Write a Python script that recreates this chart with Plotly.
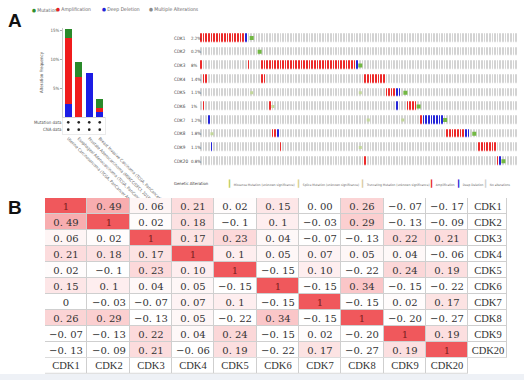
import plotly.graph_objects as go

W, H = 524, 380

# ---------------- Panel A (left): alteration frequency by study ----------------
top_legend_labels = ["Mutation", "Amplification", "Deep Deletion", "Multiple Alterations"]
top_legend_colors = ["#2f8f2f", "#e52222", "#2323d6", "#8a8a8a"]

studies = [
    "Uterine Carcinosarcoma (TCGA, PanCancer Atlas)",
    "Esophageal Adenocarcinoma (TCGA, PanCancer)",
    "Prostate Adenocarcinoma (MSKCC/DFCI, 2018)",
    "Breast Invasive Carcinoma (TCGA, PanCancer)",
]
deep_deletion = [2.2, 0.0, 7.7, 0.8]
amplification = [11.5, 6.9, 0.0, 0.7]
mutation = [1.6, 2.7, 0.0, 1.6]
freq_ticks = [5, 10, 15]
freq_tick_labels = ["5%", "10%", "15%"]
data_types = ["Mutation data", "CNA data"]

# ---------------- Panel A (right): oncoprint ----------------
genes = ["CDK1", "CDK2", "CDK3", "CDK4", "CDK5", "CDK6", "CDK7", "CDK8", "CDK9", "CDK20"]
gene_pct = ["2.2%", "0.2%", "8%", "1.4%", "1.1%", "1%", "1.2%", "1.8%", "1.1%", "0.8%"]
n_samples = 120
# runs of altered samples: (first sample, last sample, type)
# A = amplification, D = deep deletion, M = mutation, m = other mutation
alteration_runs = {
    "CDK1": [(0, 16, "A"), (17, 17, "D"), (19, 19, "M")],
    "CDK2": [(22, 22, "M")],
    "CDK3": [(0, 0, "A"), (18, 18, "A"), (23, 58, "A"), (59, 59, "D"), (60, 60, "M")],
    "CDK4": [(1, 2, "A"), (23, 24, "A"), (62, 69, "A")],
    "CDK5": [(19, 19, "m"), (60, 60, "m"), (70, 73, "A"), (74, 75, "D"), (77, 77, "M")],
    "CDK6": [(1, 1, "A"), (26, 26, "A"), (27, 27, "m"), (74, 74, "D"), (78, 81, "A"), (82, 82, "M")],
    "CDK7": [(3, 3, "D"), (63, 63, "m"), (76, 76, "m"), (83, 83, "A"), (84, 91, "D"), (92, 92, "M")],
    "CDK8": [(4, 4, "m"), (27, 28, "A"), (29, 29, "D"), (93, 99, "A"), (100, 101, "D"), (103, 103, "M")],
    "CDK9": [(4, 4, "D"), (30, 30, "A"), (60, 60, "m"), (105, 111, "A")],
    "CDK20": [(62, 62, "A"), (112, 112, "A"), (113, 113, "D"), (114, 114, "M")],
}
alteration_legend = ["Missense Mutation (unknown significance)",
                     "Splice Mutation (unknown significance)",
                     "Truncating Mutation (unknown significance)",
                     "Amplification", "Deep Deletion", "No alterations"]
alteration_legend_colors = ["#b9cc55", "#d8cf8a", "#d9c9a0", "#e52222", "#2323d6", "#cfcfcf"]

# ---------------- Panel B: correlation matrix ----------------
corr_genes = ["CDK1", "CDK2", "CDK3", "CDK4", "CDK5", "CDK6", "CDK7", "CDK8", "CDK9", "CDK20"]
corr_text = [
    ["1", "0.49", "0.06", "0.21", "0.02", "0.15", "0.00", "0.26", "-0.07", "-0.17"],
    ["0.49", "1", "0.02", "0.18", "-0.1", "0.1", "-0.03", "0.29", "-0.13", "-0.09"],
    ["0.06", "0.02", "1", "0.17", "0.23", "0.04", "-0.07", "-0.13", "0.22", "0.21"],
    ["0.21", "0.18", "0.17", "1", "0.1", "0.05", "0.07", "0.05", "0.04", "-0.06"],
    ["0.02", "-0.1", "0.23", "0.10", "1", "-0.15", "0.10", "-0.22", "0.24", "0.19"],
    ["0.15", "0.1", "0.04", "0.05", "-0.15", "1", "-0.15", "0.34", "-0.15", "-0.22"],
    ["0", "-0.03", "-0.07", "0.07", "0.1", "-0.15", "1", "-0.15", "0.02", "0.17"],
    ["0.26", "0.29", "-0.13", "0.05", "-0.22", "0.34", "-0.15", "1", "-0.20", "-0.27"],
    ["-0.07", "-0.13", "0.22", "0.04", "0.24", "-0.15", "0.02", "-0.20", "1", "0.19"],
    ["-0.13", "-0.09", "0.21", "-0.06", "0.19", "-0.22", "0.17", "-0.27", "0.19", "1"],
]

# colours
RED = "#ec2a2a"
BLUE = "#2525d8"
GREY = "#d3d3d3"
MUT = "#72b843"
MUT_LIGHT = "#c3d89a"
LINE = "#cfcfcf"
NARROW = "DejaVu Sans Condensed, Liberation Sans Narrow, Liberation Sans, Arial"


def px(x):
    return x / W


def py(y):
    return 1 - y / H


fig = go.Figure()

# ---- stacked bars ----
xs = list(range(len(studies)))
for vals, col in [(deep_deletion, "#1d1de4"), (amplification, "#f01c1c"), (mutation, "#2a8a2a")]:
    fig.add_trace(go.Bar(x=xs, y=vals, marker=dict(color=col, line=dict(width=0)),
                         width=0.7, xaxis="x", yaxis="y", hoverinfo="skip"))

# ---- data type dots ----
dot_x, dot_y = [], []
for i in xs:
    for j in range(len(data_types)):
        dot_x.append(i)
        dot_y.append(j)
fig.add_trace(go.Scatter(x=dot_x, y=dot_y, mode="markers", xaxis="x3", yaxis="y3",
                         marker=dict(color="#222222", size=2.6), hoverinfo="skip"))

# ---- oncoprint ----
code = {"A": 1, "D": 2}
onco_z = []
mut_x, mut_y, mutl_x, mutl_y = [], [], [], []
for g in genes:
    row = [0] * n_samples
    for a, b, t in alteration_runs[g]:
        for s in range(a, b + 1):
            if t in code:
                row[s] = code[t]
            elif t == "M":
                mut_x.append(s)
                mut_y.append(g)
            else:
                mutl_x.append(s)
                mutl_y.append(g)
    onco_z.append(row)

fig.add_trace(go.Heatmap(
    z=onco_z, x=list(range(n_samples)), y=genes, xaxis="x2", yaxis="y2",
    zmin=0, zmax=2, showscale=False, xgap=1, ygap=5.3, hoverinfo="skip",
    colorscale=[[0, GREY], [0.333, GREY], [0.333, RED], [0.667, RED], [0.667, BLUE], [1, BLUE]]))
fig.add_trace(go.Scatter(x=mutl_x, y=mutl_y, mode="markers", xaxis="x2", yaxis="y2",
                         marker=dict(symbol="square", size=3, color=MUT_LIGHT), hoverinfo="skip"))
fig.add_trace(go.Scatter(x=mut_x, y=mut_y, mode="markers", xaxis="x2", yaxis="y2",
                         marker=dict(symbol="square", size=4, color=MUT), hoverinfo="skip"))

# ---- correlation table ----
def fmt(s):
    t = s.replace("-", "\u2212").replace(".", ". ")
    if s == "1":
        return '<span style="color:#7a1e1e">1</span>'
    return t


def lab(s):
    return '<span style="font-family:Liberation Serif;font-size:10.5px">' + s + "</span>"


n = len(corr_genes)
label_w = 0.914
x_edges = list(range(n + 1)) + [n + label_w]
y_edges = list(range(n + 1))
z_main, t_main = [], []
for i in range(n):
    z_main.append([float(v) for v in corr_text[i]] + [0.0])
    t_main.append([fmt(v) for v in corr_text[i]] + [lab(corr_genes[i])])

# grey base so that cell gaps appear as grid lines
fig.add_trace(go.Heatmap(z=[[0] * (n + 1) for _ in range(n)], x=x_edges, y=y_edges,
                         xaxis="x4", yaxis="y4", colorscale=[[0, LINE], [1, LINE]],
                         showscale=False, hoverinfo="skip"))
fig.add_trace(go.Heatmap(z=z_main, x=x_edges, y=y_edges, text=t_main, texttemplate="%{text}",
                         textfont=dict(family="DejaVu Serif", size=10, color="#333333"),
                         xaxis="x4", yaxis="y4", zmin=0, zmax=1,
                         colorscale=[[0, "#ffffff"], [1, "#f0585c"]],
                         showscale=False, xgap=1, ygap=1, hoverinfo="skip"))
fig.add_trace(go.Heatmap(z=[[0] * n], x=list(range(n + 1)), y=[0, 1],
                         xaxis="x5", yaxis="y5", colorscale=[[0, LINE], [1, LINE]],
                         showscale=False, hoverinfo="skip"))
fig.add_trace(go.Heatmap(z=[[0.0] * n], x=list(range(n + 1)), y=[0, 1],
                         text=[[lab(g) for g in corr_genes]], texttemplate="%{text}",
                         textfont=dict(family="DejaVu Serif", size=10, color="#333333"),
                         xaxis="x5", yaxis="y5", zmin=0, zmax=1,
                         colorscale=[[0, "#ffffff"], [1, "#f0585c"]],
                         showscale=False, xgap=1, ygap=1, hoverinfo="skip"))

tiny = dict(family=NARROW, size=4.4, color="#555555")
hidden = dict(visible=False, fixedrange=True, automargin=False)

layout = dict(
    template="none",
    width=W, height=H, margin=dict(l=0, r=0, t=0, b=0, pad=0, autoexpand=False),
    paper_bgcolor="white", plot_bgcolor="white", showlegend=False,
    barmode="stack", bargap=0.3, hovermode=False, dragmode=False,
    xaxis=dict(domain=[px(63), px(105)], range=[-0.5, 3.5], showticklabels=False,
               showline=True, linecolor="#bbbbbb", linewidth=0.8, ticks="", showgrid=False,
               zeroline=False, anchor="y", automargin=False, fixedrange=True),
    yaxis=dict(domain=[py(117), py(28)], range=[0, 15.4], tickvals=freq_ticks,
               ticktext=freq_tick_labels, tickfont=tiny, ticks="outside", ticklen=2,
               tickcolor="#aaaaaa", showline=True, linecolor="#bbbbbb", linewidth=0.8,
               showgrid=False, zeroline=False, anchor="x", automargin=False, fixedrange=True,
               title=dict(text="Alteration Frequency", font=tiny, standoff=6)),
    xaxis3=dict(domain=[px(63), px(105)], range=[-0.5, 3.5], tickvals=xs, ticktext=studies,
                tickangle=45, tickfont=dict(family=NARROW, size=4.2, color="#666666"),
                showline=True, mirror=True, linecolor="#dddddd", linewidth=0.6, ticks="",
                showgrid=False, zeroline=False, anchor="y3", automargin=False, fixedrange=True),
    yaxis3=dict(domain=[py(134), py(118)], range=[1.6, -0.6], tickvals=[0, 1],
                ticktext=data_types, tickfont=tiny, showline=True, mirror=True,
                linecolor="#dddddd", linewidth=0.6, ticks="", showgrid=False,
                zeroline=False, anchor="x3", automargin=False, fixedrange=True),
    xaxis2=dict(domain=[px(200), px(518)], range=[-0.5, n_samples - 0.5], anchor="y2", **hidden),
    yaxis2=dict(domain=[py(171.3), py(27.9)], autorange="reversed", anchor="x2", **hidden),
    xaxis4=dict(domain=[px(45), px(507)], range=[0, n + label_w], anchor="y4", **hidden),
    yaxis4=dict(domain=[py(357.8), py(198)], range=[n, 0], anchor="x4", **hidden),
    xaxis5=dict(domain=[px(45), px(468.3)], range=[0, n], anchor="y5", **hidden),
    yaxis5=dict(domain=[py(373.8), py(357.8)], range=[1, 0], anchor="x5", **hidden),
)

annotations = []
# panel letters
annotations.append(dict(text="<b>A</b>", x=px(6), y=py(21), xref="paper", yref="paper",
                        xanchor="left", yanchor="middle", showarrow=False,
                        font=dict(family="Liberation Sans, Arial", size=19, color="#111111")))
annotations.append(dict(text="<b>B</b>", x=px(6), y=py(207), xref="paper", yref="paper",
                        xanchor="left", yanchor="middle", showarrow=False,
                        font=dict(family="Liberation Sans, Arial", size=19, color="#111111")))
# top legend
leg_x = [30, 54, 100, 147]
for lx, lbl, col in zip(leg_x, top_legend_labels, top_legend_colors):
    annotations.append(dict(text='<span style="color:%s">\u25cf</span> %s' % (col, lbl),
                            x=px(lx), y=py(10), xref="paper", yref="paper",
                            xanchor="left", yanchor="middle", showarrow=False,
                            font=dict(family=NARROW, size=5, color="#666666")))
# oncoprint gene labels and percentages
for g, p in zip(genes, gene_pct):
    annotations.append(dict(text=g, x=px(172), y=g, xref="paper", yref="y2", xanchor="left",
                            yanchor="middle", showarrow=False,
                            font=dict(family=NARROW, size=4.6, color="#444444")))
    annotations.append(dict(text=p, x=px(189), y=g, xref="paper", yref="y2", xanchor="left",
                            yanchor="middle", showarrow=False,
                            font=dict(family=NARROW, size=4.4, color="#444444")))
annotations.append(dict(text="Genetic Alteration", x=px(172), y=py(184), xref="paper", yref="paper",
                        xanchor="left", yanchor="middle", showarrow=False,
                        font=dict(family=NARROW, size=4.2, color="#333333")))
alt_leg_x = [226, 295, 359, 428, 455, 482]
for lx, lbl, col in zip(alt_leg_x, alteration_legend, alteration_legend_colors):
    annotations.append(dict(text='<span style="color:%s;font-size:7px">\u258e</span>%s' % (col, lbl),
                            x=px(lx), y=py(184), xref="paper", yref="paper", xanchor="left",
                            yanchor="middle", showarrow=False,
                            font=dict(family=NARROW, size=3.2, color="#666666")))
layout["annotations"] = annotations
layout["shapes"] = [dict(type="rect", xref="paper", yref="paper", x0=0, x1=1, y0=0, y1=py(374),
                         fillcolor="#eef1f6", line=dict(width=0), layer="below")]

fig.update_layout(**layout)
fig.write_html("out.html", config={"displayModeBar": False, "staticPlot": True},
               post_script="document.body.style.margin='0px';document.body.style.overflow='hidden';")
